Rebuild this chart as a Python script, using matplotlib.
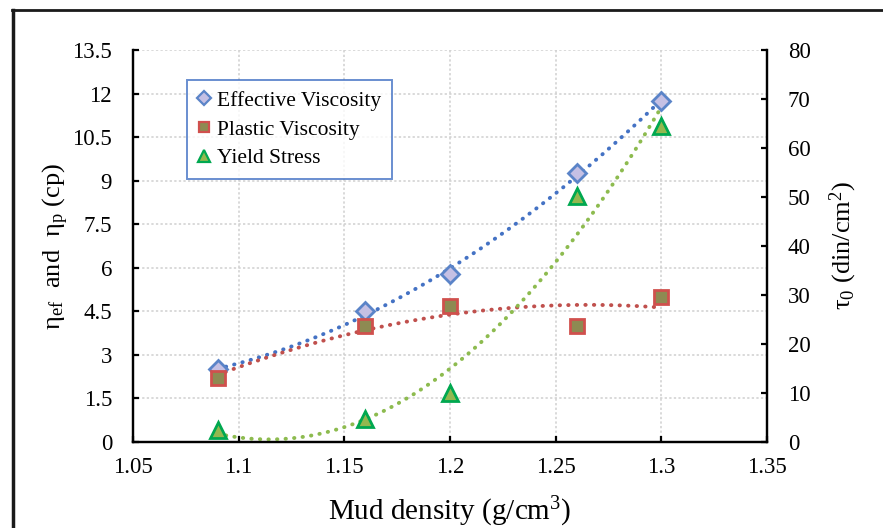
import numpy as np
import matplotlib
matplotlib.use('Agg')
import matplotlib.pyplot as plt
from matplotlib.lines import Line2D

plt.rcParams['font.family'] = ['Liberation Serif', 'DejaVu Serif']
plt.rcParams['mathtext.fontset'] = 'custom'
plt.rcParams['mathtext.rm'] = 'Liberation Serif'
plt.rcParams['mathtext.it'] = 'Liberation Serif:italic'

# data
density = [1.09, 1.16, 1.20, 1.26, 1.30]
effective_visc = [2.5, 4.5, 5.8, 9.25, 11.75]
plastic_visc = [2.2, 4.0, 4.7, 4.0, 5.0]
yield_stress = [2.5, 4.7, 10.0, 50.2, 64.5]

x_ticks = [1.05, 1.1, 1.15, 1.2, 1.25, 1.3, 1.35]
left_ticks = [0, 1.5, 3, 4.5, 6, 7.5, 9, 10.5, 12, 13.5]
right_ticks = [0, 10, 20, 30, 40, 50, 60, 70, 80]

blue_line, red_line, green_line = '#4472C4', '#C0504D', '#8DBB4F'

fig = plt.figure(figsize=(8.83, 5.28), dpi=100)
ax = fig.add_axes([0.1506, 0.1629, 0.7180, 0.7424])
ax2 = ax.twinx()

dot = dict(linestyle=(0, (0.1, 2.1)), dash_capstyle='round', linewidth=2.8)


def trend(axis, y, color):
    # second order polynomial trendline, like the spreadsheet one
    coef = np.polyfit(density, y, 2)
    xs = np.linspace(min(density), max(density), 200)
    axis.plot(xs, np.polyval(coef, xs), color=color, zorder=2, **dot)


trend(ax, effective_visc, blue_line)
trend(ax, plastic_visc, red_line)
trend(ax2, yield_stress, green_line)

ax.plot(density, effective_visc, linestyle='none', marker='D', markersize=9.5,
        markerfacecolor='#C5C0E4', markeredgecolor='#5B84C8', markeredgewidth=2, zorder=3)
ax.plot(density, plastic_visc, linestyle='none', marker='s', markersize=10,
        markerfacecolor='#8E8A52', markeredgecolor='#D0504D', markeredgewidth=2, zorder=3)
ax2.plot(density, yield_stress, linestyle='none', marker='^', markersize=11.5,
         markerfacecolor='#93B84F', markeredgecolor='#00A850', markeredgewidth=2, zorder=3)

ax.set_xlim(1.05, 1.35)
ax.set_ylim(0, 13.5)
ax2.set_ylim(0, 80)
ax.set_xticks(x_ticks)
ax.set_xticklabels(['1.05', '1.1', '1.15', '1.2', '1.25', '1.3', '1.35'])
ax.set_yticks(left_ticks)
ax.set_yticklabels(['0', '1.5', '3', '4.5', '6', '7.5', '9', '10.5', '12', '13.5'])
ax2.set_yticks(right_ticks)

ax.grid(True, color='#D0D0D0', linestyle=(0, (1.5, 1.5)), linewidth=1.1)
ax.set_axisbelow(True)

for a in (ax, ax2):
    a.spines['top'].set_visible(False)
    for s in ('left', 'right', 'bottom'):
        a.spines[s].set_linewidth(1.6)
ax.tick_params(axis='both', direction='in', length=4, width=1.6, labelsize=16.5)
ax.tick_params(axis='y', pad=15)
ax.tick_params(axis='x', pad=11)
ax2.tick_params(axis='y', direction='in', length=4, width=1.6, labelsize=16.5, pad=15)

ax.set_xlabel('Mud density (g/cm$\\mathregular{^3}$)', fontsize=21)
ax.set_ylabel('$\\mathregular{\\eta_{ef}}$  and  $\\mathregular{\\eta_p}$ (cp)', fontsize=19)
ax2.set_ylabel('$\\mathregular{\\tau_0}$ (din/cm$\\mathregular{^2}$)', fontsize=19)
ax.xaxis.set_label_coords(0.5, -0.135)
ax.yaxis.set_label_coords(-0.097, 0.5)
ax2.yaxis.set_label_coords(1.096, 0.5)

handles = [
    Line2D([], [], linestyle='none', marker='D', markersize=7, markerfacecolor='#C5C0E4',
           markeredgecolor='#5B84C8', markeredgewidth=1.6, label='Effective Viscosity'),
    Line2D([], [], linestyle='none', marker='s', markersize=7.5, markerfacecolor='#8E8A52',
           markeredgecolor='#D0504D', markeredgewidth=1.6, label='Plastic Viscosity'),
    Line2D([], [], linestyle='none', marker='^', markersize=8.5, markerfacecolor='#93B84F',
           markeredgecolor='#00A850', markeredgewidth=1.6, label='Yield Stress'),
]
leg = ax2.legend(handles=handles, loc='upper left', bbox_to_anchor=(0.085, 0.923),
                 borderaxespad=0, fontsize=15.5, frameon=True, fancybox=False,
                 handlelength=0.6, handletextpad=0.3, borderpad=0.5, labelspacing=0.4)
leg.get_frame().set_edgecolor('#4472C4')
leg.get_frame().set_linewidth(1.4)

# outer chart border (partly cropped in the reference)
fig.add_artist(Line2D([13 / 883, 13 / 883], [0, 518 / 528], color='#1a1a1a', linewidth=2.5))
fig.add_artist(Line2D([12 / 883, 1], [518 / 528, 518 / 528], color='#1a1a1a', linewidth=2.0))

fig.savefig('out.png', dpi=100)
